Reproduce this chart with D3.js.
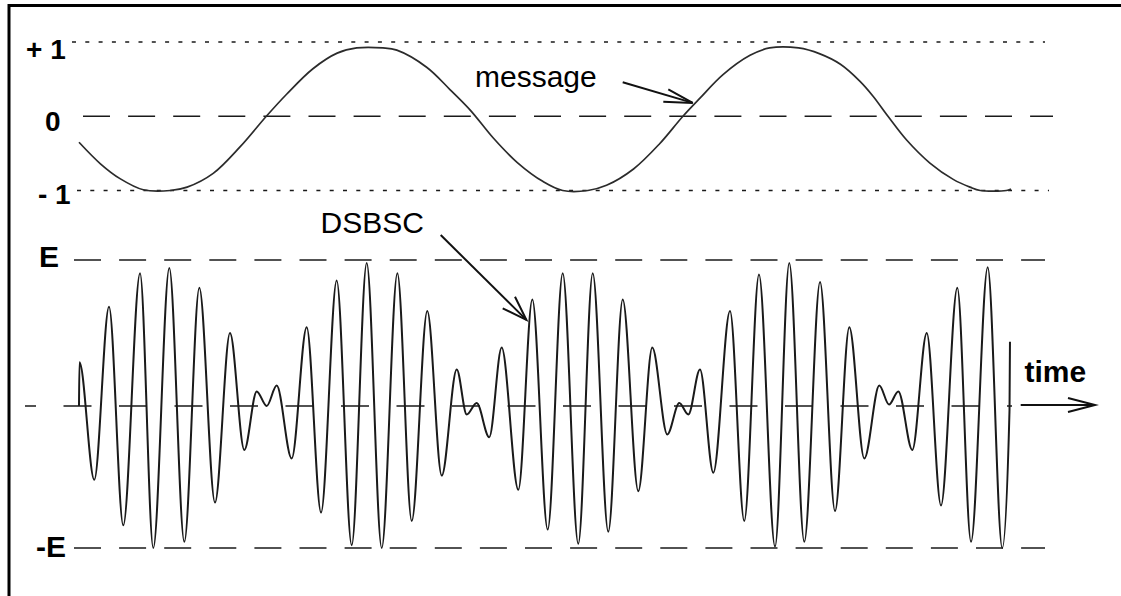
<!DOCTYPE html>
<html>
<head>
<meta charset="utf-8">
<script src="https://cdn.jsdelivr.net/npm/d3@7"></script>
<style>
  body { margin: 0; background: #fff; }
  svg { display: block; font-family: "Liberation Sans", Arial, sans-serif; }
</style>
</head>
<body>
<div class="graph"></div>
<script>
// message samples: time (0..100) and value (-1..+1)
let msgTime = [0, 2.3, 4.4, 6.9, 9.8, 11.6, 14.4, 17.3, 20.1, 22.3, 25.1, 27.7, 29.8, 32.6, 34.1,
  37.3, 39.8, 42.0, 44.5, 47.0, 49.8, 51.9, 54.6, 56.6, 59.5, 62.3, 64.8, 66.6, 69.1, 72.0,
  74.1, 77.2, 79.5, 81.7, 83.8, 85.2, 86.8, 88.8, 91.3, 93.8, 95.6, 96.7, 99.5, 100];
let msgValue = [-0.35, -0.64, -0.84, -0.99, -1.0, -0.955, -0.77, -0.41, 0, 0.30, 0.64, 0.85, 0.92, 0.92, 0.89,
  0.66, 0.36, 0.08, -0.30, -0.62, -0.88, -1.0, -1.0, -0.93, -0.71, -0.37, 0, 0.24, 0.56, 0.82,
  0.92, 0.92, 0.84, 0.70, 0.47, 0.27, 0, -0.32, -0.63, -0.85, -0.955, -1.0, -1.0, -0.98];

// DSBSC turning points: time and value in units of E
let dsbTime = [0, 0.05, 1.64, 3.22, 4.75, 6.55, 7.97, 9.69, 11.30, 12.91, 14.59, 16.20, 17.74,
  19.07, 20.14, 21.21, 22.82, 24.43, 25.97, 27.65, 29.26, 30.87, 32.48, 34.16, 35.70, 37.37,
  38.92, 40.53, 41.60, 42.67, 44.02, 45.35, 47.14, 48.64, 50.29, 51.90, 53.57, 55.12, 56.79,
  58.34, 60.01, 61.51, 63.12, 64.41, 65.38, 66.63, 68.06, 69.85, 71.38, 72.96, 74.68, 76.21,
  77.82, 79.51, 81.12, 82.65, 84.26, 85.87, 86.91, 87.91, 89.41, 90.96, 92.49, 94.24, 95.71,
  97.50, 99.06, 99.84, 99.89];
let dsbValue = [0, 0.30, -0.52, 0.68, -0.84, 0.91, -1.0, 0.945, -0.956, 0.81, -0.68, 0.50, -0.31,
  0.10, 0, 0.14, -0.37, 0.54, -0.75, 0.86, -0.98, 0.98, -1.0, 0.91, -0.81, 0.65,
  -0.49, 0.25, -0.06, 0.02, -0.22, 0.40, -0.59, 0.73, -0.87, 0.91, -0.97, 0.91, -0.885,
  0.73, -0.60, 0.40, -0.20, 0.02, -0.06, 0.25, -0.47, 0.65, -0.81, 0.90, -0.99, 0.98,
  -0.956, 0.85, -0.74, 0.54, -0.37, 0.14, 0.01, 0.10, -0.31, 0.50, -0.70, 0.81, -0.956,
  0.95, -1.0, -0.03, 0.44];

// level labels
let msgLevels = [1, 0, -1];
let msgLabels = ["+ 1", "0", "- 1"];
let dsbLevels = [1, -1];
let dsbLabels = ["E", "-E"];

let width = 1121;
let height = 596;

let svg = d3.select(".graph").append("svg")
  .attr("width", width)
  .attr("height", height);

// scales
let x = d3.scaleLinear().domain([0, 100]).range([79, 1011]);
let yMsg = d3.scaleLinear().domain([-1, 1]).range([190.5, 42]);
let yDsb = d3.scaleLinear().domain([-1, 0, 1]).range([548, 406, 260]);

// frame (top and left only)
svg.append("line").attr("x1", 8).attr("x2", width).attr("y1", 5.5).attr("y2", 5.5)
  .attr("stroke", "#000").attr("stroke-width", 3);
svg.append("line").attr("x1", 9).attr("x2", 9).attr("y1", 4).attr("y2", height)
  .attr("stroke", "#000").attr("stroke-width", 3);

// guide lines
function guide(y, x1, x2, dash, offset) {
  svg.append("line")
    .attr("x1", x1).attr("x2", x2)
    .attr("y1", y).attr("y2", y)
    .attr("stroke", "#1a1a1a")
    .attr("stroke-width", 1.6)
    .attr("stroke-dasharray", dash)
    .attr("stroke-dashoffset", offset || 0);
}
guide(yMsg(1), 72, 1045, "4 9.3");
guide(yMsg(0), 83, 1053, "27 18.1");
guide(yMsg(-1), 77, 1049, "4 9.3");
guide(yDsb(1), 74, 1045, "27 18.1");
guide(yDsb(-1), 74, 1045, "27 18.1");
guide(yDsb(0), 25, 1012, "28 27.5", 17);

// level labels
let msgLabelX = [26, 45, 38];
let msgLabelDy = [17, 15, 13];
svg.selectAll(".msgLabel")
  .data(msgLevels)
  .join("text")
  .attr("class", "msgLabel")
  .attr("x", (d, i) => msgLabelX[i])
  .attr("y", (d, i) => yMsg(d) + msgLabelDy[i])
  .attr("font-size", 28)
  .attr("font-weight", "bold")
  .attr("xml:space", "preserve")
  .text((d, i) => msgLabels[i]);

let dsbLabelX = [39, 36];
let dsbLabelDy = [6.5, 9];
svg.selectAll(".dsbLabel")
  .data(dsbLevels)
  .join("text")
  .attr("class", "dsbLabel")
  .attr("x", (d, i) => dsbLabelX[i])
  .attr("y", (d, i) => yDsb(d) + dsbLabelDy[i])
  .attr("font-size", 30)
  .attr("font-weight", "bold")
  .text((d, i) => dsbLabels[i]);

// message curve
let msgData = msgTime.map((t, i) => ({ t: t, v: msgValue[i] }));
let msgLine = d3.line()
  .x(d => x(d.t))
  .y(d => yMsg(d.v))
  .curve(d3.curveCatmullRom.alpha(0.5));

svg.append("path")
  .datum(msgData)
  .attr("d", msgLine)
  .attr("fill", "none")
  .attr("stroke", "#2b2b2b")
  .attr("stroke-width", 1.7);

// DSBSC curve
let dsbData = dsbTime.map((t, i) => ({ t: t, v: dsbValue[i] }));
let dsbLine = d3.line()
  .x(d => x(d.t))
  .y(d => yDsb(d.v))
  .curve(d3.curveMonotoneX);

svg.append("path")
  .datum(dsbData)
  .attr("d", dsbLine)
  .attr("fill", "none")
  .attr("stroke", "#1a1a1a")
  .attr("stroke-width", 2);

// arrows with open heads
function arrow(x1, y1, x2, y2, h1, h2) {
  let g = svg.append("g")
    .attr("stroke", "#111")
    .attr("stroke-width", 2)
    .attr("fill", "none");
  g.append("line").attr("x1", x1).attr("y1", y1).attr("x2", x2).attr("y2", y2);
  g.append("polyline")
    .attr("points", [h1, [x2, y2], h2].map(p => p.join(",")).join(" "));
}

// message annotation, tip on the curve
let mx = x(65.85), my = yMsg(0.18);
arrow(622.7, 82.3, mx, my, [668.3, 89.3], [663.3, 101.7]);
svg.append("text")
  .attr("x", 475).attr("y", 87)
  .attr("font-size", 30)
  .text("message");

// DSBSC annotation, tip near a carrier peak
let dx = x(48.0), dy = yDsb(0.59);
arrow(440.7, 235, dx, dy, [515, 296.7], [502.7, 308.3]);
svg.append("text")
  .attr("x", 320.5).attr("y", 233.3)
  .attr("font-size", 30)
  .text("DSBSC");

// time axis arrow
let ty = yDsb(0) - 1;
arrow(1020.7, ty, 1095, ty, [1068, ty - 7], [1068, ty + 7]);
svg.append("text")
  .attr("x", 1024.5).attr("y", 381.7)
  .attr("font-size", 30)
  .attr("font-weight", "bold")
  .text("time");
</script>
</body>
</html>
